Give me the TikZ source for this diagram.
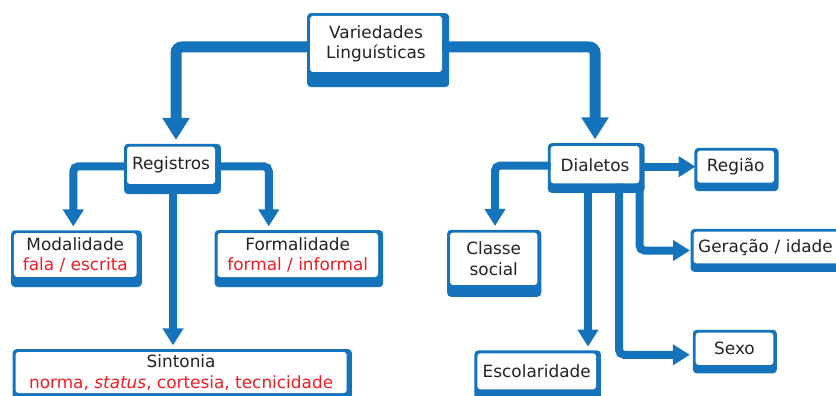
\documentclass[tikz,border=0pt]{standalone}
\usepackage{fontspec}
\setmainfont{DejaVu Sans}
\usetikzlibrary{arrows.meta,backgrounds}
\definecolor{vblue}{RGB}{20,115,187}
\definecolor{vred}{RGB}{237,28,36}
\definecolor{vtext}{RGB}{35,35,35}
\tikzset{
	vbox/.style={fill=white, rounded corners=3pt, inner sep=0pt, align=center, text=vtext,
		font=\fontsize{16.9pt}{20.5pt}\selectfont},
	bigline/.style={vblue, line width=11pt, rounded corners=6pt, shorten >=6.5pt, -{Triangle[width=26pt,length=22pt]}},
	smallline/.style={vblue, line width=8pt, rounded corners=5pt, shorten >=6.5pt, -{Triangle[width=20pt,length=17pt]}},
}
\begin{document}
\begin{tikzpicture}[x=1pt,y=-1pt]
	\useasboundingbox (0,0) rectangle (836,396);
	\node[vbox, minimum width=132pt, minimum height=56pt] (var) at (376,44) {Variedades\\Linguísticas};
	\node[vbox, minimum width=88pt, minimum height=37.3pt] (reg) at (171,165.3) {Registros};
	\node[vbox, minimum width=122.7pt, minimum height=43.7pt] (mod) at (75.3,255) {Modalidade\\\textcolor{vred}{fala / escrita}};
	\node[vbox, minimum width=160.5pt, minimum height=44pt] (form) at (297.75,255) {Formalidade\\\textcolor{vred}{formal / informal}};
	\node[vbox, minimum width=331.2pt, minimum height=41pt] (sint) at (181.1,372.5) {Sintonia\\\textcolor{vred}{norma, \textit{status}, cortesia, tecnicidade}};
	\node[vbox, minimum width=88.6pt, minimum height=37.3pt] (dial) at (595,164.7) {Dialetos};
	\node[vbox, minimum width=76.7pt, minimum height=32pt] (regi) at (735.7,166.7) {Região};
	\node[vbox, minimum width=87.3pt, minimum height=52.3pt] (classe) at (493.7,258.8) {Classe\\social};
	\node[vbox, anchor=west, align=left, text width=150pt, inner xsep=4.7pt, minimum height=31.6pt] (ger) at (693.3,247.5) {Geração / idade};
	\node[vbox, minimum width=118.7pt, minimum height=36pt] (esc) at (536.7,371.3) {Escolaridade};
	\node[vbox, minimum width=77.6pt, minimum height=32.3pt] (sexo) at (734.5,348.8) {Sexo};
	\begin{scope}[on background layer]
		\foreach \n/\r/\b in {var/7pt/15pt, reg/5.7pt/10pt, mod/5pt/10pt, form/5pt/10pt, sint/5pt/10pt,
			dial/5pt/9.4pt, regi/4.3pt/8.3pt, classe/3.7pt/11.7pt, ger/5pt/8.4pt, esc/4.7pt/10pt, sexo/3.4pt/8.3pt}
			\fill[vblue, rounded corners=4pt] ([shift={(-2.7pt,2.7pt)}]\n.north west) rectangle ([shift={(\r,-\b)}]\n.south east);
	\end{scope}
	\draw[bigline] ([yshift=-3pt]var.west) -| ([xshift=5pt]reg.north);
	\draw[bigline] ([yshift=-3pt]var.east) -| (dial.north);
	\draw[smallline] ([yshift=-1pt]reg.west) -| ([xshift=-2pt]mod.north);
	\draw[smallline] ([yshift=-1pt]reg.east) -| ([xshift=-29pt]form.north);
	\coordinate (regdown) at ([xshift=2pt]reg.south);
	\draw[smallline] (regdown) -- (regdown |- sint.north);
	\draw[smallline, shorten >=1.6pt] (dial.east |- regi.west) -- (regi.west);
	\draw[smallline] ([yshift=-1pt]dial.west) -| ([xshift=1.3pt]classe.north);
	\draw[smallline, shorten >=3.3pt] (dial.south east) |- ([yshift=-3pt]ger.west);
	\coordinate (dialesc) at ([xshift=-7pt]dial.south);
	\draw[smallline] (dialesc) -- (dialesc |- esc.north);
	\coordinate (dialsex) at ([xshift=24pt]dial.south);
	\draw[smallline, shorten >=5.7pt] (dialsex) |- ([yshift=-6pt]sexo.west);
\end{tikzpicture}
\end{document}
